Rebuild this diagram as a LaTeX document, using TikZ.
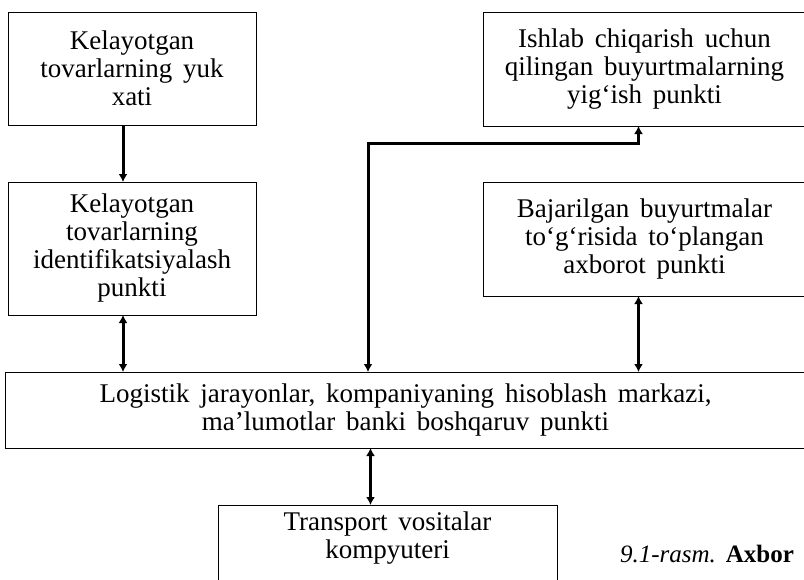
\documentclass[tikz,border=0pt]{standalone}
\usepackage{fontspec}
\setmainfont[WordSpace=1.6]{Liberation Serif}
\usetikzlibrary{arrows.meta}
\begin{document}
\begin{tikzpicture}
	[x=1pt, y=-1pt,
	 every node/.style={inner sep=0, outer sep=0, align=center, font=\fontsize{27}{28}\selectfont},
	 box/.style={draw, line width=0.8pt},
	 link/.style={line width=3pt, -{Latex[length=8pt,width=9pt]}},
	 both/.style={line width=3pt, {Latex[length=8pt,width=9pt]}-{Latex[length=8pt,width=9pt]}}]
	\useasboundingbox (0,0) rectangle (804,579);
	\node (yuk) [box, minimum width=248pt, minimum height=113pt] at (132, 68.5) {Kelayotgan \\ tovarlarning yuk \\ xati};
	\node (ident) [box, minimum width=248pt, minimum height=133pt] at (132, 248.5) {Kelayotgan \\ tovarlarning \\ identifikatsiyalash \\ punkti};
	\node (yigish) [box, minimum width=323pt, minimum height=114pt] at (644.5, 69) {Ishlab chiqarish uchun \\ qilingan buyurtmalarning \\ yig‘ish punkti};
	\node (axborot) [box, minimum width=323pt, minimum height=114pt] at (644.5, 239) {Bajarilgan buyurtmalar \\ to‘g‘risida to‘plangan \\ axborot punkti};
	\node (markaz) [box, minimum width=801pt, minimum height=76pt] at (405.5, 410) {Logistik jarayonlar, kompaniyaning hisoblash markazi, \\ ma’lumotlar banki boshqaruv punkti};
	\node (transport) [anchor=north, inner ysep=7pt, minimum width=339pt] at (387.5, 505) {Transport vositalar \\ kompyuteri};
	\draw [box] (transport.north west) rectangle ([yshift=-40pt]transport.south east);
	\node (caption) [anchor=base west, font=\fontsize{25}{27}\selectfont] at (620, 562) {\textit{9.1-rasm.}\hspace{10pt}\textbf{Axbor}};
	% connectors
	\coordinate (bend) at (368, 143);
	\draw [link] ([xshift=-9pt]yuk.south) -- ([xshift=-9pt]ident.north);
	\draw [both] ([xshift=-9pt]ident.south) -- ([xshift=-9pt]ident.south |- markaz.north);
	\draw [both] (bend |- markaz.north) -- (bend) -| ([xshift=-6pt]yigish.south);
	\draw [both] ([xshift=-6pt]axborot.south) -- ([xshift=-6pt]axborot.south |- markaz.north);
	\draw [both] ([xshift=-17pt]transport.north) -- ([xshift=-17pt]transport.north |- markaz.south);
\end{tikzpicture}
\end{document}
